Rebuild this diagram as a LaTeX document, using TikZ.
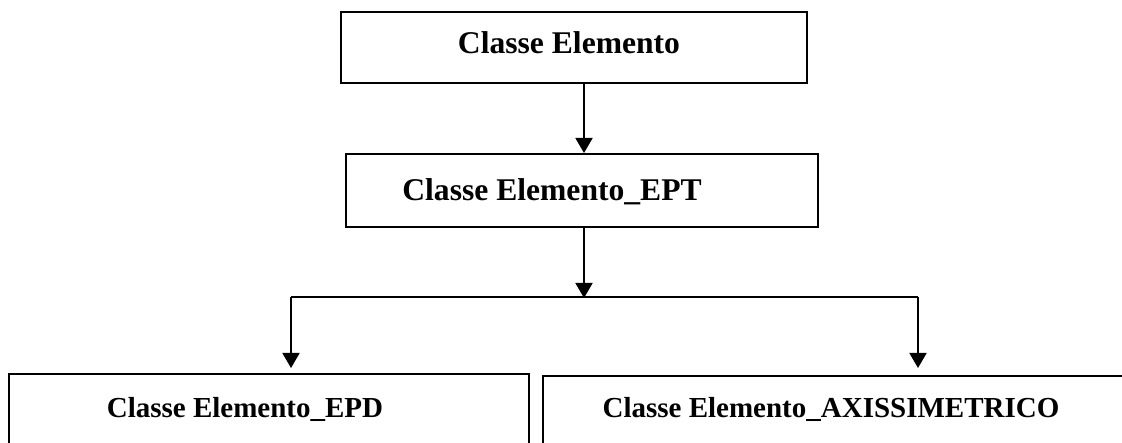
\documentclass[tikz,border=0pt]{standalone}
\usepackage{fontspec}
\setmainfont{Liberation Serif}
\usetikzlibrary{arrows.meta}
\begin{document}
\begin{tikzpicture}[x=1pt,y=-1pt,
  box/.style={draw=black, line width=2pt, rectangle, inner sep=0pt, fill=white},
  title/.style={anchor=base, inner sep=0pt, font=\bfseries\fontsize{31.6}{36}\selectfont},
  subtitle/.style={anchor=base, inner sep=0pt, font=\bfseries\fontsize{29}{34}\selectfont},
  link/.style={draw=black, line width=1.8pt},
  arr/.style={link, -{Triangle[width=17pt,length=15pt]}}]
  \clip (0,0) rectangle (1122,443);
  \fill[white] (0,0) rectangle (1122,443);

  % class boxes
  \node[box, minimum width=466pt, minimum height=71pt] (b1) at (574,47.5) {};
  \node[box, minimum width=472pt, minimum height=73pt] (b2) at (582,190.5) {};
  \node[box, minimum width=520pt, minimum height=100pt] (b3) at (269,424) {};
  \node[box, minimum width=600pt, minimum height=100pt] (b4) at (843,426) {};

  % class names
  \node[title] (t1) at (569,54) {Classe Elemento};
  \node[title] (t2) at (552,201) {Classe Elemento\_EPT};
  \node[subtitle] (t3) at (245,418) {Classe Elemento\_EPD};
  \node[subtitle] (t4) at (831,418) {Classe Elemento\_AXISSIMETRICO};

  % junction points of the branching connector
  \coordinate (split) at (584,297);
  \coordinate (lft) at (291,297);
  \coordinate (rgt) at (918,297);

  % inheritance connectors
  \draw[arr] (b1.south -| split) -- (b2.north -| split);
  \draw[arr, shorten >=-1pt] (b2.south -| split) -- (split);
  \draw[link] (lft) -- (rgt);
  \draw[arr, shorten >=5pt] (lft) -- (lft |- b3.north);
  \draw[arr, shorten >=7pt] (rgt) -- (rgt |- b4.north);
\end{tikzpicture}
\end{document}
